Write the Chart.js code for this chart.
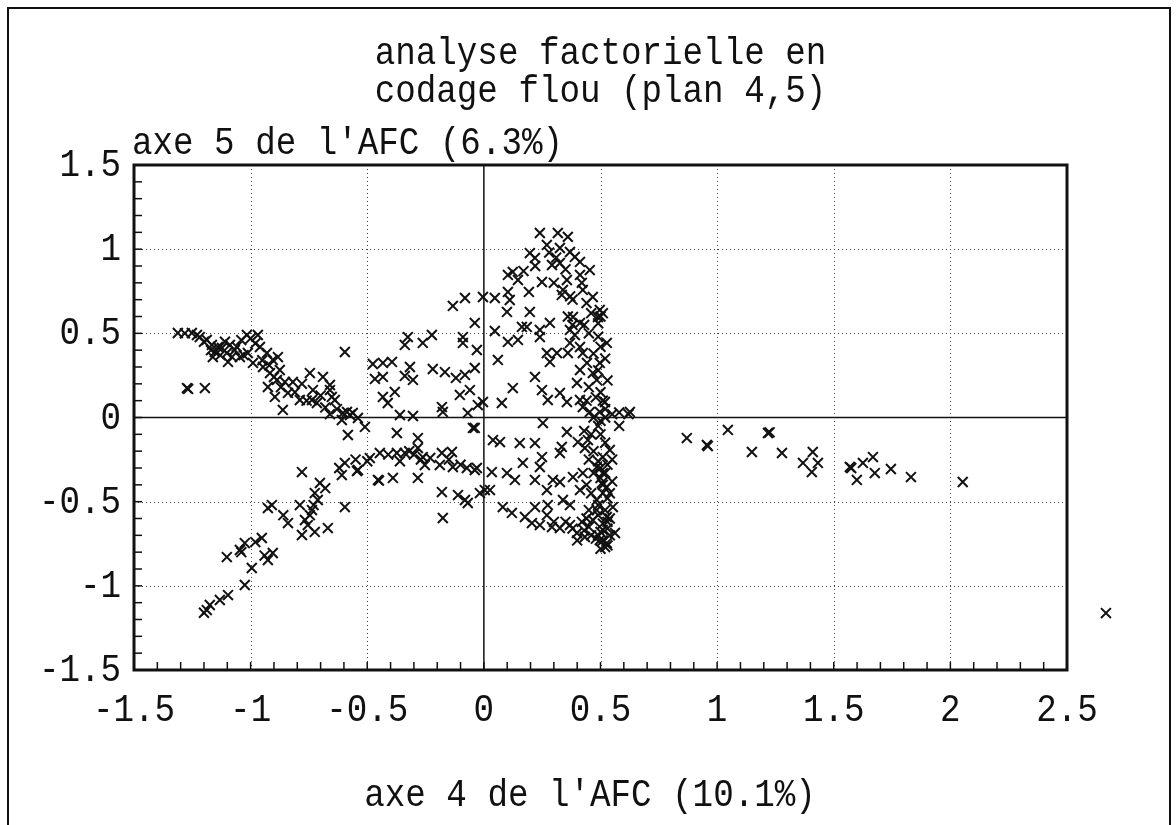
<!DOCTYPE html>
<html>
<head>
<meta charset="utf-8">
<script src="https://cdn.jsdelivr.net/npm/chart.js@4/dist/chart.umd.min.js"></script>
<style>
  html, body { margin: 0; padding: 0; background: #fff; }
  #wrap { position: relative; width: 1176px; height: 825px; }
</style>
</head>
<body>
<div id="wrap"><canvas id="c" width="1176" height="825"></canvas></div>
<script>
// ---- Data (axe 4 = x, axe 5 = y) ----
const titleLines = ["analyse factorielle en", "codage flou (plan 4,5)"];
const xAxisTitle = "axe 4 de l'AFC (10.1%)";
const yAxisTitle = "axe 5 de l'AFC (6.3%)";
const xTickValues = [-1.5, -1, -0.5, 0, 0.5, 1, 1.5, 2, 2.5];
const yTickValues = [1.5, 1, 0.5, 0, -0.5, -1, -1.5];

const leftArmX = [-1.312,-1.282,-1.252,-1.218,-1.188,-1.166,-1.153,-1.162,-1.140,-1.123,-1.110,-1.102,-1.089,-1.097,-1.068,-1.046,-1.030,-1.016,-1.000,-0.969,-1.012,-0.990,-0.960,-0.947,-0.930,-0.917,-0.905,-0.887,-0.883,-0.875,-0.853,-0.896,-0.926,-0.840,-0.819,-0.862,-0.789,-0.746,-0.733,-0.737,-0.716,-0.690,-0.660,-0.652,-0.639,-0.596,-0.587,-0.562,-0.609,-1.273,-1.268,-1.196,-0.660,-0.604,-0.574,-0.540];
const leftArmY = [0.502,0.500,0.502,0.478,0.461,0.431,0.389,0.359,0.419,0.413,0.450,0.383,0.431,0.330,0.401,0.359,0.370,0.490,0.470,0.490,0.383,0.324,0.419,0.300,0.383,0.264,0.342,0.223,0.359,0.282,0.211,0.122,0.181,0.146,0.211,0.045,0.104,0.264,0.163,0.104,0.086,0.241,0.193,0.122,0.104,0.389,0.033,0.027,-0.015,0.175,0.170,0.175,0.163,0.027,0.015,-0.003];
const leftArmDenseX = [-1.23,-1.20,-1.17,-1.13,-1.08,-1.06,-1.04,-0.98,-0.95,-0.92,-0.90,-0.87,-0.81,-0.78,-0.76,-0.70,-0.68,-0.63,-0.66];
const leftArmDenseY = [0.49,0.45,0.40,0.37,0.36,0.42,0.46,0.44,0.34,0.31,0.24,0.18,0.15,0.20,0.10,0.13,0.06,0.05,0.02];

const centreLeftX = [-0.133,-0.081,-0.004,-0.039,-0.326,-0.339,-0.262,-0.223,-0.090,-0.090,-0.030,-0.476,-0.433,-0.394,-0.317,-0.467,-0.433,-0.339,-0.304,-0.219,-0.167,-0.120,-0.081,-0.039,-0.382,-0.433,-0.412,-0.103,-0.060,-0.026,-0.180,-0.176,-0.069,-0.360,-0.304,-0.510,-0.583,-0.373,-0.283,-0.039,-0.489,-0.446,-0.373,-0.339,-0.320,-0.300,-0.283,-0.270,-0.262,-0.253,-0.180,-0.137,-0.189,-0.133,-0.073,-0.030,-0.454,-0.450,-0.390,-0.283,-0.180,-0.111,-0.081,-0.069,-0.176,0.004,-0.047,-0.23,-0.41,-0.36,-0.15,-0.10];
const centreLeftY = [0.663,0.710,0.716,0.562,0.478,0.431,0.443,0.490,0.478,0.443,0.401,0.318,0.324,0.330,0.300,0.229,0.241,0.247,0.223,0.288,0.270,0.235,0.253,0.294,0.152,0.122,0.086,0.134,0.163,0.074,0.062,0.033,0.027,0.015,0.009,-0.056,-0.104,-0.092,-0.122,-0.062,-0.241,-0.211,-0.211,-0.211,-0.200,-0.220,-0.181,-0.250,-0.235,-0.282,-0.211,-0.205,-0.282,-0.294,-0.300,-0.300,-0.371,-0.375,-0.359,-0.359,-0.443,-0.461,-0.490,-0.508,-0.597,-0.431,-0.062,-0.24,-0.22,-0.26,-0.25,-0.28];

const lowerArmX = [-0.596,-0.540,-0.609,-0.596,-0.780,-0.544,-0.703,-0.725,-0.712,-0.789,-0.909,-0.926,-0.746,-0.737,-0.840,-0.767,-0.755,-0.780,-0.725,-0.669,-0.952,-1.025,-1.046,-1.102,-0.905,-0.926,-0.995,-1.025,-1.097,-1.132,-1.175,-1.188,-1.200,-0.55,-0.50,-0.62,-0.68,-0.73,-0.86,-0.98,-1.04,-0.94];
const lowerArmY = [-0.270,-0.312,-0.342,-0.532,-0.324,-0.318,-0.389,-0.449,-0.490,-0.520,-0.520,-0.538,-0.580,-0.550,-0.627,-0.609,-0.639,-0.698,-0.680,-0.657,-0.716,-0.746,-0.787,-0.829,-0.805,-0.847,-0.894,-0.995,-1.055,-1.084,-1.114,-1.144,-1.160,-0.25,-0.26,-0.30,-0.42,-0.52,-0.58,-0.74,-0.80,-0.82];

const centreTopX = [0.240,0.317,0.360,0.270,0.326,0.369,0.197,0.219,0.390,0.412,0.454,0.292,0.326,0.124,0.103,0.146,0.249,0.356,0.412,0.339,0.334,0.424,0.467,0.489,0.497,0.500,0.510,0.490,0.047,0.193,0.103,0.111,0.099,0.197,0.163,0.184,0.240,0.283,0.370,0.380,0.360,0.380,0.382,0.412,0.369,0.390,0.047,0.103,0.146,0.240,0.527,0.369,0.412,0.270,0.313,0.283,0.360,0.424,0.442,0.412,0.060,0.219,0.399,0.467,0.497,0.484,0.124,0.249,0.274,0.326,0.356,0.412,0.424,0.454,0.519,0.497,0.077,0.626,0.580,0.550,0.620,0.500,0.510,0.520,-0.004];
const centreTopY = [1.096,1.096,1.073,1.025,1.007,0.983,0.977,0.948,0.954,0.924,0.876,0.906,0.918,0.865,0.847,0.817,0.805,0.817,0.847,0.758,0.728,0.758,0.716,0.597,0.639,0.600,0.620,0.560,0.710,0.746,0.746,0.698,0.627,0.627,0.538,0.538,0.520,0.562,0.720,0.700,0.600,0.550,0.597,0.562,0.520,0.490,0.514,0.449,0.461,0.478,0.443,0.443,0.419,0.383,0.383,0.330,0.383,0.383,0.324,0.282,0.342,0.241,0.205,0.264,0.324,0.223,0.175,0.163,0.104,0.146,0.092,0.104,0.062,0.033,0.092,0.033,0.086,0.033,0.030,0.020,0.020,0.150,0.100,0.050,0.092];
const centreTopDenseX = [0.28,0.31,0.35,0.22,0.17,0.30,0.42,0.44,0.46,0.43,0.45,0.49,0.50,0.47,0.52,0.49,0.45,0.53,0.48,0.44];
const centreTopDenseY = [0.98,0.95,0.88,0.90,0.87,0.80,0.80,0.68,0.62,0.55,0.50,0.48,0.42,0.38,0.35,0.28,0.18,0.22,0.12,0.10];

const centreBottomX = [0.039,0.069,0.154,0.219,0.253,0.356,0.334,0.326,0.403,0.446,0.433,0.540,0.510,0.249,0.167,0.240,-0.039,0.034,0.099,0.133,0.219,0.296,0.326,0.424,0.382,0.484,0.510,0.270,0.412,0.339,0.369,0.219,0.274,0.176,0.206,0.240,0.292,0.326,0.369,0.399,0.433,0.467,0.484,0.484,0.510,0.527,0.506,0.527,0.510,0.497,0.527,0.553,0.562,0.081,0.120,-0.017,0.026,0.490,0.500,0.520,0.490,0.530,0.500,0.540,0.490,0.530,0.500,0.540,0.520,0.480,0.450,0.440,0.420,0.400,0.470,0.550,0.580,0.500,0.470];
const centreBottomY = [-0.134,-0.146,-0.152,-0.152,-0.033,-0.086,-0.175,-0.211,-0.146,-0.134,-0.181,-0.193,-0.235,-0.235,-0.270,-0.294,-0.312,-0.324,-0.330,-0.371,-0.371,-0.371,-0.383,-0.330,-0.354,-0.294,-0.330,-0.431,-0.431,-0.490,-0.520,-0.532,-0.520,-0.591,-0.627,-0.639,-0.651,-0.657,-0.639,-0.686,-0.710,-0.609,-0.550,-0.490,-0.449,-0.413,-0.389,-0.591,-0.668,-0.728,-0.746,-0.532,-0.686,-0.532,-0.567,-0.449,-0.431,-0.050,-0.100,-0.150,-0.260,-0.280,-0.360,-0.450,-0.580,-0.620,-0.680,-0.700,-0.770,-0.720,-0.650,-0.600,-0.620,-0.730,-0.200,-0.380,-0.050,-0.020,0.000];
const bandDenseX = [0.50,0.52,0.51,0.53,0.49,0.52,0.54,0.51,0.53,0.49,0.51,0.53,0.50,0.46,0.43,0.38,0.35,0.30,0.27,0.45,0.46,0.44,0.47,0.45,0.43,0.46,0.52,0.55];
const bandDenseY = [-0.30,-0.33,-0.40,-0.48,-0.52,-0.55,-0.60,-0.63,-0.66,-0.70,-0.73,-0.76,-0.78,-0.70,-0.67,-0.66,-0.62,-0.62,-0.58,-0.55,-0.45,-0.40,-0.33,-0.25,-0.08,-0.10,0.00,-0.25];

const rightTailX = [0.870,0.956,0.960,1.046,1.218,1.225,1.149,1.278,1.410,1.368,1.406,1.432,1.569,1.575,1.599,1.625,1.668,1.676,1.745,1.831,2.053,2.667];
const rightTailY = [-0.122,-0.163,-0.170,-0.074,-0.092,-0.088,-0.205,-0.211,-0.205,-0.270,-0.324,-0.270,-0.294,-0.300,-0.371,-0.270,-0.235,-0.330,-0.306,-0.354,-0.383,-1.162];

// ---- Build points ----
function pairs(xs, ys) { return xs.map((x, i) => ({ x: x, y: ys[i] })); }
const points = [].concat(
  pairs(leftArmX, leftArmY),
  pairs(leftArmDenseX, leftArmDenseY),
  pairs(centreLeftX, centreLeftY),
  pairs(lowerArmX, lowerArmY),
  pairs(centreTopX, centreTopY),
  pairs(centreTopDenseX, centreTopDenseY),
  pairs(centreBottomX, centreBottomY),
  pairs(bandDenseX, bandDenseY),
  pairs(rightTailX, rightTailY)
);

const FONT = '38px "Liberation Mono", "DejaVu Sans Mono", monospace';
const SX = 0.9;
const INK = '#111';

function drawText(ctx, text, x, y, align, baseline) {
  ctx.save();
  ctx.translate(x, y);
  ctx.scale(SX, 1);
  ctx.font = FONT;
  ctx.fillStyle = INK;
  ctx.textAlign = align;
  ctx.textBaseline = baseline || 'alphabetic';
  ctx.fillText(text, 0, 0);
  ctx.restore();
}
function fmt(v) { return String(v); }

const framePlugin = {
  id: 'framePlugin',
  beforeDatasetsDraw(chart) {
    const ctx = chart.ctx, a = chart.chartArea;
    const xs = chart.scales.x, ys = chart.scales.y;
    ctx.save();
    // dotted grid
    ctx.strokeStyle = '#444';
    ctx.lineWidth = 1;
    ctx.setLineDash([1, 3]);
    xTickValues.forEach(v => {
      if (v === 0 || v === xs.min || v === xs.max) return;
      const px = Math.round(xs.getPixelForValue(v)) + 0.5;
      ctx.beginPath(); ctx.moveTo(px, a.top); ctx.lineTo(px, a.bottom); ctx.stroke();
    });
    yTickValues.forEach(v => {
      if (v === 0 || v === ys.min || v === ys.max) return;
      const py = Math.round(ys.getPixelForValue(v)) + 0.5;
      ctx.beginPath(); ctx.moveTo(a.left, py); ctx.lineTo(a.right, py); ctx.stroke();
    });
    ctx.setLineDash([]);
    // zero lines
    ctx.strokeStyle = INK;
    ctx.lineWidth = 1.5;
    const x0 = xs.getPixelForValue(0), y0 = ys.getPixelForValue(0);
    ctx.beginPath(); ctx.moveTo(x0, a.top); ctx.lineTo(x0, a.bottom); ctx.stroke();
    ctx.beginPath(); ctx.moveTo(a.left, y0); ctx.lineTo(a.right, y0); ctx.stroke();
    // minor ticks (0.1)
    ctx.lineWidth = 1.5;
    for (let i = -14; i <= 24; i++) {
      const px = xs.getPixelForValue(i / 10);
      ctx.beginPath(); ctx.moveTo(px, a.bottom); ctx.lineTo(px, a.bottom - 8); ctx.stroke();
    }
    for (let i = -14; i <= 14; i++) {
      const py = ys.getPixelForValue(i / 10);
      ctx.beginPath(); ctx.moveTo(a.left, py); ctx.lineTo(a.left + 8, py); ctx.stroke();
    }
    ctx.restore();
  },
  afterDatasetsDraw(chart) {
    // points lying outside the plot frame (Chart.js skips them by default)
    const a = chart.chartArea;
    chart.getSortedVisibleDatasetMetas().forEach(meta => {
      meta.data.forEach(el => {
        if (el.x < a.left || el.x > a.right || el.y < a.top || el.y > a.bottom) {
          el.draw(chart.ctx);
        }
      });
    });
  },
  afterDraw(chart) {
    const ctx = chart.ctx, a = chart.chartArea;
    const xs = chart.scales.x, ys = chart.scales.y;
    ctx.save();
    // plot frame
    ctx.strokeStyle = INK;
    ctx.lineWidth = 3;
    ctx.strokeRect(a.left, a.top, a.right - a.left, a.bottom - a.top);
    // outer figure frame
    ctx.lineWidth = 2;
    ctx.beginPath();
    ctx.moveTo(8, 825); ctx.lineTo(8, 8); ctx.lineTo(1170, 8); ctx.lineTo(1170, 825);
    ctx.stroke();
    ctx.restore();
    // tick labels
    xTickValues.forEach(v => {
      drawText(ctx, fmt(v), xs.getPixelForValue(v), a.bottom + 51, 'center');
    });
    yTickValues.forEach(v => {
      drawText(ctx, fmt(v), a.left - 13, ys.getPixelForValue(v) + 11, 'right');
    });
    // titles
    const cx = (a.left + a.right) / 2;
    drawText(ctx, titleLines[0], cx, 64, 'center');
    drawText(ctx, titleLines[1], cx, 102, 'center');
    drawText(ctx, yAxisTitle, a.left - 2, 154, 'left');
    drawText(ctx, xAxisTitle, 590, 806, 'center');
  }
};

new Chart(document.getElementById('c'), {
  type: 'scatter',
  data: {
    datasets: [{
      data: points,
      pointStyle: 'crossRot',
      pointRadius: 7,
      pointBorderWidth: 2,
      borderColor: INK,
      backgroundColor: INK,
      clip: false
    }]
  },
  options: {
    responsive: false,
    animation: false,
    devicePixelRatio: 1,
    events: [],
    layout: { padding: { left: 134, right: 109, top: 165, bottom: 155 } },
    scales: {
      x: { type: 'linear', min: -1.5, max: 2.5, display: false },
      y: { type: 'linear', min: -1.5, max: 1.5, display: false }
    },
    plugins: { legend: { display: false }, tooltip: { enabled: false }, title: { display: false } }
  },
  plugins: [framePlugin]
});
</script>
</body>
</html>
